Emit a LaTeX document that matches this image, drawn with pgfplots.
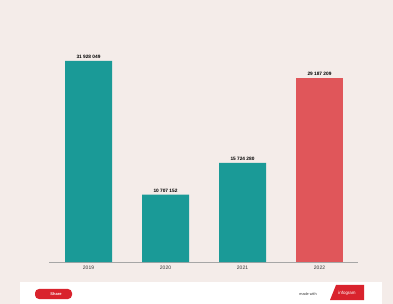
\documentclass[border=0pt]{standalone}
\usepackage{pgfplots}
\pgfplotsset{compat=1.18}
\usepackage{fontspec}
\setmainfont{Liberation Sans}
\definecolor{bgc}{HTML}{F4ECE9}
\definecolor{tealc}{HTML}{1A9A97}
\definecolor{redc}{HTML}{E0565A}
\definecolor{logored}{HTML}{D9232D}
\begin{document}
\begin{tikzpicture}[x=1bp,y=1bp]
\fill[bgc] (0,0) rectangle (393,304);
\useasboundingbox (0,0) rectangle (393,304);
\fill[white] (20,0) rectangle (382,22);
% footer decorations
\fill[logored,rounded corners=4bp] (35,5) rectangle (72,15);
\node[white,font=\fontsize{4}{4}\selectfont\bfseries] at (56,10) {Share};
\node[black!80,font=\fontsize{3.8}{4}\selectfont] at (308,10) {made with};
\fill[logored] (330,4) -- (364,4) -- (364,19) -- (336,19) -- cycle;
\node[white,font=\fontsize{4.5}{5}\selectfont] at (347,11) {infogram};
\begin{axis}[
  at={(49bp,42bp)}, anchor=south west,
  scale only axis, width=309bp, height=220.4bp,
  xmin=-0.513, xmax=3.5, ymin=0, ymax=35000000,
  axis x line*=bottom, hide y axis, scaled y ticks=false,
  x axis line style={gray!70, line width=0.6pt, -},
  xtick={0,1,2,3}, xticklabels={2019,2020,2021,2022},
  major tick length=0pt,
  tick label style={font=\fontsize{5}{6}\selectfont, text=black!80},
  xticklabel style={yshift=-1bp},
  ybar, bar width=47bp, bar shift=0pt,
  nodes near coords,
  point meta=explicit symbolic,
  every node near coord/.append style={font=\fontsize{4.8}{5}\selectfont\bfseries, text=black, yshift=-1bp},
  clip=false,
]
\addplot[fill=tealc, draw=none] table[meta=lab, header=true] {
x y lab
0 31928049 {31 928 049}
1 10707152 {10 707 152}
2 15724280 {15 724 280}
};
\addplot[fill=redc, draw=none] table[meta=lab, header=true] {
x y lab
3 29187209 {29 187 209}
};
\end{axis}
\end{tikzpicture}
\end{document}
